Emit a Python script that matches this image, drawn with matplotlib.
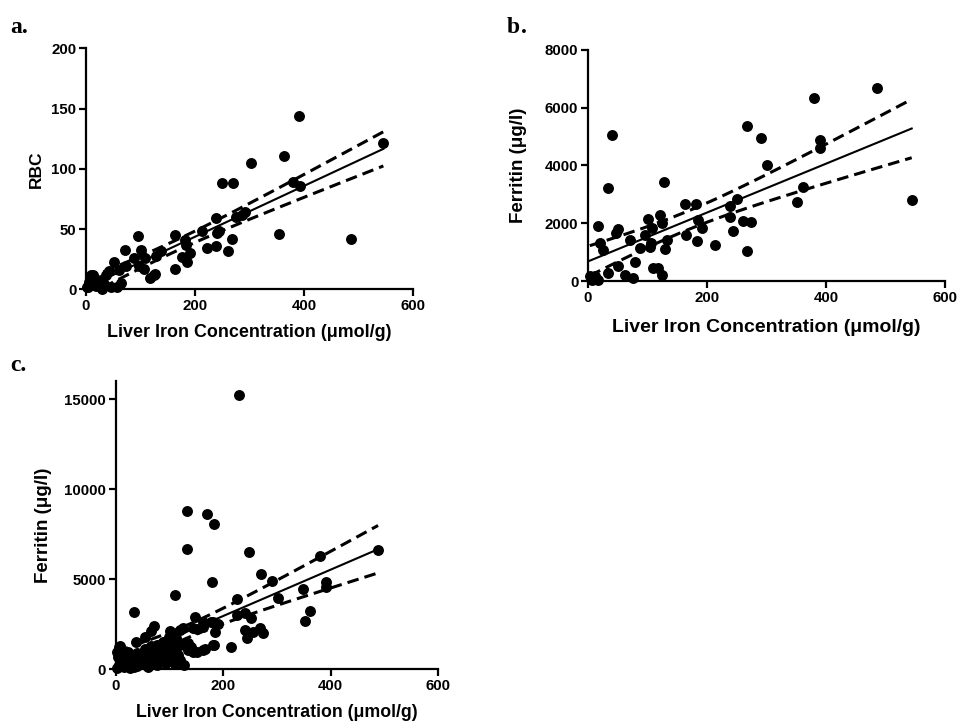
import numpy as np
import matplotlib
matplotlib.use('Agg')
import matplotlib.pyplot as plt

plt.rcParams['font.family'] = ['Liberation Sans', 'DejaVu Sans']
plt.rcParams['font.weight'] = 'bold'

# ── panel a: liver iron vs RBC ───────────────────────────────────────────
a_liver = [545, 390, 362, 302, 250, 269, 379, 392, 291, 274, 238, 243, 213,
           267, 260, 238, 221, 354, 486, 164, 182, 184, 191, 185, 164, 96,
           71, 101, 88, 109, 128, 137, 125, 106, 117, 127, 73, 51, 61, 64,
           45, 33, 21, 15, 9, 5, 57, 27, 2, 42, 36, 97, 176, 240, 285, 12,
           4, 18, 8, 30]
a_rbc = [121, 144, 111, 105, 88, 88, 89, 86, 64, 60, 59, 48, 48,
         42, 32, 36, 34, 46, 42, 45, 41, 37, 30, 23, 17, 44,
         33, 33, 26, 26, 28, 32, 12, 17, 9, 13, 19, 23, 16, 5,
         2, 4, 5, 9, 12, 6, 2, 8, 2, 15, 12, 19, 27, 47, 62, 12,
         2, 3, 4, 0]

# ── panel b: liver iron vs ferritin ─────────────────────────────────────
b_liver = [486, 379, 40, 268, 291, 390, 390, 301, 33, 128, 361, 352, 544,
           250, 238, 163, 182, 121, 125, 100, 108, 185, 191, 238, 261, 274,
           243, 267, 213, 165, 183, 132, 130, 95, 106, 104, 87, 71, 51, 47,
           16, 20, 26, 79, 51, 33, 62, 76, 110, 118, 125, 3, 12, 17, 6]
b_ferritin = [6673, 6349, 5068, 5368, 4941, 4883, 4595, 4006, 3232, 3440,
              3244, 2724, 2794, 2840, 2597, 2678, 2655, 2274, 2020, 2136,
              1824, 2113, 1847, 2216, 2078, 2032, 1732, 1050, 1247, 1582,
              1374, 1420, 1097, 1582, 1328, 1189, 1131, 1420, 1790, 1651,
              1905, 1328, 1074, 658, 519, 289, 208, 92, 462, 462,
              196, 173, 173, 35, 35]

# ── panel c: combined ───────────────────────────────────────────────────
c_liver = [229, 132, 170, 183, 133, 248, 488, 270, 180, 291, 380, 348, 391,
           392, 302, 226, 111, 34, 353, 362, 225, 241, 251, 148, 162, 177,
           191, 151, 120, 240, 244, 256, 268, 274, 214, 183, 166, 151, 134,
           141, 181, 185, 71, 65, 54, 38, 101, 125, 144, 162, 181, 162, 144,
           134, 128, 119, 113, 107, 7, 23, 4, 20, 32, 51, 45, 63, 76, 88, 94,
           103, 57, 76, 94, 107, 7, 26, 2, 2, 8, 12, 15, 30, 40, 60, 70, 80,
           85, 95, 100, 105, 110, 115, 90, 70, 40, 55, 65, 85, 98, 120, 18,
           28, 10, 35, 50, 60, 110, 100]
c_ferritin = [15200, 8800, 8600, 8050, 6700, 6500, 6600, 5300, 4850, 4900,
              6300, 4450, 4850, 4550, 3960, 3880, 4100, 3170, 2690, 3230,
              3040, 3100, 2830, 2880, 2600, 2636, 2509, 2236, 2182, 2180,
              1720, 2087, 2275, 2000, 1210, 1330, 1127, 945, 1091, 1236,
              2641, 2087, 2420, 2109, 1800, 1540, 2150, 2275, 2275, 2364,
              1348, 1071, 977, 1443, 239, 516, 1720, 1903, 1254, 977, 699,
              610, 333, 794, 422, 977, 1348, 1532, 1165, 977, 239, 239, 333,
              610, 239, 55, 55, 964, 1291, 450, 150, 700, 900, 600, 800, 1000,
              700, 1500, 1800, 1300, 1000, 800, 400, 500, 200, 1100, 1300,
              1200, 850, 1350, 350, 500, 850, 100, 400, 150, 300, 600]

x_ticks = [0, 200, 400, 600]
x_label = 'Liver Iron Concentration (\u03bcmol/g)'


def fit_band(x, y, t=1.99):
    x = np.asarray(x, float)
    y = np.asarray(y, float)
    slope, icpt = np.polyfit(x, y, 1)
    n = len(x)
    resid = y - (slope * x + icpt)
    s = np.sqrt(np.sum(resid ** 2) / (n - 2))
    sxx = np.sum((x - x.mean()) ** 2)
    xs = np.linspace(x.min(), x.max(), 100)
    yh = slope * xs + icpt
    se = s * np.sqrt(1.0 / n + (xs - x.mean()) ** 2 / sxx)
    return xs, yh, yh - t * se, yh + t * se


def draw_panel(ax, x, y, ylim, yticks, ylabel, xl_size, yl_size,
               xpad, ypad):
    ax.scatter(x, y, s=62, color='black', zorder=3, clip_on=False,
               linewidths=0)
    xs, yh, lo, hi = fit_band(x, y)
    ax.plot(xs, yh, color='black', lw=1.5)
    for band in (lo, hi):
        ax.plot(xs, band, color='black', lw=2.2, dashes=(3.8, 2.0))
    ax.set_xlim(0, 600)
    ax.set_ylim(*ylim)
    ax.set_xticks(x_ticks)
    ax.set_yticks(yticks)
    for sp in ('top', 'right'):
        ax.spines[sp].set_visible(False)
    for sp in ('left', 'bottom'):
        ax.spines[sp].set_linewidth(1.6)
    ax.tick_params(width=1.6, length=5, labelsize=10.8, pad=2)
    for lab in ax.get_xticklabels() + ax.get_yticklabels():
        lab.set_fontweight('bold')
    ax.set_xlabel(x_label, fontsize=xl_size, fontweight='bold', labelpad=xpad)
    ax.set_ylabel(ylabel, fontsize=yl_size, fontweight='bold', labelpad=ypad)


fig = plt.figure(figsize=(9.6, 7.22), dpi=100)

ax_a = fig.add_axes([0.0896, 0.5993, 0.341, 0.3338])
draw_panel(ax_a, a_liver, a_rbc, (0, 200), [0, 50, 100, 150, 200], 'RBC',
           12.9, 12.5, 8, 5)

ax_b = fig.add_axes([0.6125, 0.6108, 0.3719, 0.32])
draw_panel(ax_b, b_liver, b_ferritin, (0, 8000), [0, 2000, 4000, 6000, 8000],
           'Ferritin (\u03bcg/l)', 14, 13.5, 10, 13)

ax_c = fig.add_axes([0.1205, 0.073, 0.336, 0.3993])
draw_panel(ax_c, c_liver, c_ferritin, (0, 16000), [0, 5000, 10000, 15000],
           'Ferritin (\u03bcg/l)', 12.8, 13.5, 8, 9)

serif = ['Liberation Serif', 'DejaVu Serif']
fig.text(0.011, 1 - 33 / 722, 'a.', fontsize=17, fontweight='bold',
         family=serif)
fig.text(0.528, 1 - 33 / 722, 'b', fontsize=17, fontweight='bold',
         family=serif)
fig.text(0.5425, 1 - 33 / 722, '.', fontsize=17, family=serif)
fig.text(0.011, 1 - 371 / 722, 'c.', fontsize=17, fontweight='bold',
         family=serif)

fig.savefig('out.png', dpi=100)
